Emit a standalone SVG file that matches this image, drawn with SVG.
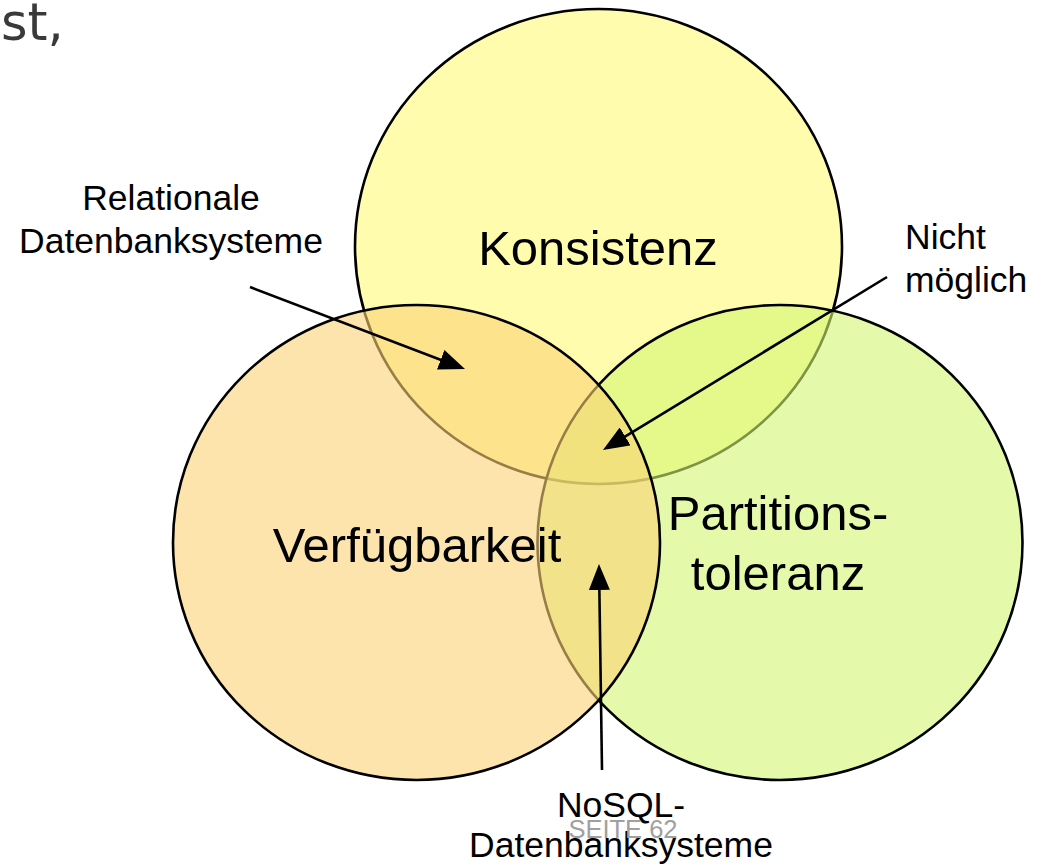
<svg xmlns="http://www.w3.org/2000/svg" width="1042" height="867" viewBox="0 0 1042 867">
  <style>
    .circle { stroke: #000; stroke-width: 2.6; }
    .big { font-family: "Liberation Sans", Arial, sans-serif; font-size: 49px; fill: #000; text-anchor: middle; }
    .small { font-family: "Liberation Sans", Arial, sans-serif; font-size: 35.5px; fill: #000; }
    .conn { stroke: #000; stroke-width: 2.6; fill: none; marker-end: url(#arrow); }
  </style>
  <defs>
    <marker id="arrow" markerUnits="userSpaceOnUse" markerWidth="26" markerHeight="21" refX="18" refY="10.5" orient="auto">
      <path d="M0,0 L26,10.5 L0,21 z" fill="#000"/>
    </marker>
  </defs>
  <rect width="1042" height="867" fill="#fff"/>
  <text x="1" y="40" font-family="'DejaVu Sans', Verdana, sans-serif" font-size="51" fill="#3a3a3a">st,</text>

  <g id="konsistenz">
    <ellipse class="circle" cx="598.5" cy="246.5" rx="243.5" ry="237.5" fill="#FFFDAD"/>
    <text class="big" x="598" y="265">Konsistenz</text>
  </g>
  <g id="partitionstoleranz">
    <ellipse class="circle" cx="780" cy="542.5" rx="242.5" ry="237.5" fill="#D2F771" fill-opacity="0.6"/>
    <text class="big" x="778" y="530">Partitions-</text>
    <text class="big" x="778" y="590">toleranz</text>
  </g>
  <g id="verfuegbarkeit">
    <ellipse class="circle" cx="416.5" cy="542.5" rx="243.5" ry="237.5" fill="#FCD275" fill-opacity="0.6"/>
    <text class="big" x="417" y="562">Verfügbarkeit</text>
  </g>

  <g id="label-relational">
    <text class="small" x="171" y="210" text-anchor="middle">Relationale</text>
    <text class="small" x="171" y="253" text-anchor="middle">Datenbanksysteme</text>
  </g>
  <g id="label-nicht-moeglich">
    <text class="small" x="905" y="249">Nicht</text>
    <text class="small" x="905" y="292">möglich</text>
  </g>
  <g id="label-nosql">
    <text class="small" x="621" y="817" text-anchor="middle">NoSQL-</text>
    <text class="small" x="621" y="857" text-anchor="middle">Datenbanksysteme</text>
  </g>
  <text x="623" y="838" text-anchor="middle" font-family="'Liberation Sans', Arial, sans-serif" font-size="25.5" fill="#a0a0a0">SEITE 62</text>

  <g id="connectors">
    <line class="conn" x1="250" y1="287" x2="457.5" y2="366.2"/>
    <line class="conn" x1="887" y1="277" x2="609.8" y2="445.8"/>
    <line class="conn" x1="602" y1="770" x2="599.1" y2="572"/>
  </g>
</svg>
